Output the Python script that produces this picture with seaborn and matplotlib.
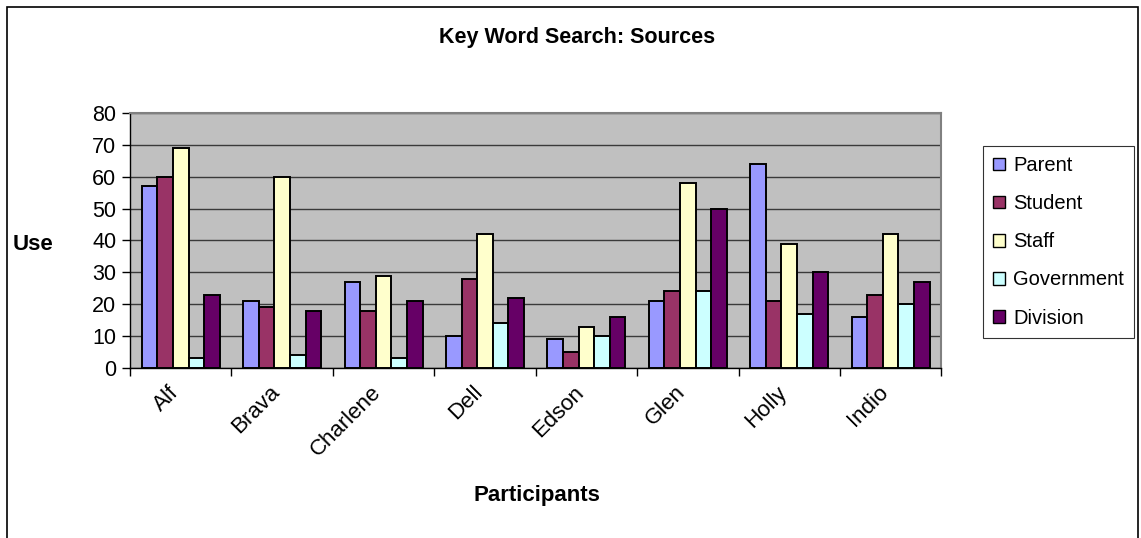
import matplotlib
matplotlib.use("Agg")
import matplotlib.pyplot as plt
import matplotlib.patches as mpatches
import matplotlib.transforms as mtransforms
import seaborn as sns
import pandas as pd
import numpy as np

# Search-term source counts per participant
participants = ["Alf", "Brava", "Charlene", "Dell", "Edson", "Glen", "Holly", "Indio"]
sources = ["Parent", "Student", "Staff", "Government", "Division"]
parent = [57, 21, 27, 10, 9, 21, 64, 16]
student = [60, 19, 18, 28, 5, 24, 21, 23]
staff = [69, 60, 29, 42, 13, 58, 39, 42]
government = [3, 4, 3, 14, 10, 24, 17, 20]
division = [23, 18, 21, 22, 16, 50, 30, 27]
y_ticks = [0, 10, 20, 30, 40, 50, 60, 70, 80]

colors = ["#9999FF", "#993366", "#FFFFCC", "#CCFFFF", "#660066"]

series = [parent, student, staff, government, division]
df = pd.DataFrame({
    "Participant": np.repeat([participants], len(sources), axis=0).ravel(),
    "Source": np.repeat(sources, len(participants)),
    "Use": np.concatenate(series),
})

sns.set_theme(style="white")
plt.rcParams["font.family"] = ["Liberation Sans", "DejaVu Sans"]
plt.rcParams["text.color"] = "black"
plt.rcParams["xtick.color"] = "black"
plt.rcParams["ytick.color"] = "black"
plt.rcParams["axes.labelcolor"] = "black"

fig = plt.figure(figsize=(11.41, 5.38), dpi=100)
ax = fig.add_axes([0.114, 0.316, 0.711, 0.474])
ax.set_facecolor("#C0C0C0")

sns.barplot(data=df, x="Participant", y="Use", hue="Source",
            order=participants, hue_order=sources, palette=colors,
            width=0.77, gap=0, edgecolor="black", linewidth=1.4,
            saturation=1, ax=ax, legend=False, zorder=3)

ax.set_xlim(-0.5, len(participants) - 0.5)
ax.set_ylim(0, 80)
ax.set_yticks(y_ticks)
ax.set_yticklabels([str(t) for t in y_ticks], fontsize=15.5, color="black")
ax.yaxis.grid(True, color="#3a3a3a", linewidth=1.0, zorder=1)
ax.set_axisbelow(True)

# category labels at centres, tick marks at boundaries
ax.set_xticks(range(len(participants)))
ax.set_xticklabels(participants, rotation=45, ha="right", va="top",
                   rotation_mode="anchor", fontsize=16, color="black")
ax.tick_params(axis="x", which="major", length=0, pad=10)
shift = mtransforms.ScaledTranslation(-13 / 100, 0, fig.dpi_scale_trans)
for lbl in ax.get_xticklabels():
    lbl.set_transform(lbl.get_transform() + shift)
ax.set_xticks(np.arange(-0.5, len(participants), 1.0), minor=True)
ax.tick_params(axis="x", which="minor", length=6, width=1, color="black",
               direction="out", bottom=True)
ax.tick_params(axis="y", length=6, width=1, color="black",
               direction="out", left=True, pad=4)
ax.set_xlabel("")
ax.set_ylabel("")

for side in ["left", "bottom"]:
    ax.spines[side].set_color("black")
    ax.spines[side].set_linewidth(1.0)
for side in ["top", "right"]:
    ax.spines[side].set_color("#808080")
    ax.spines[side].set_linewidth(1.5)

fig.text(0.506, 0.931, "Key Word Search: Sources", ha="center", va="center",
         fontsize=15.5, fontweight="bold", color="black")
fig.text(13 / 1141, 0.545, "Use", ha="left", va="center",
         fontsize=16, fontweight="bold", color="black")
fig.text(537 / 1141, 1 - 495 / 538, "Participants", ha="center", va="center",
         fontsize=16, fontweight="bold", color="black")

handles = [mpatches.Patch(facecolor=c, edgecolor="black", linewidth=1.0, label=s)
           for c, s in zip(colors, sources)]
leg = fig.legend(handles=handles, loc="upper left",
                 bbox_to_anchor=(983 / 1141, 1 - 146 / 538),
                 frameon=True, fancybox=False, fontsize=14.5,
                 handlelength=0.6, handleheight=0.6, handletextpad=0.4,
                 labelspacing=0.95, borderpad=0.5, borderaxespad=0,
                 labelcolor="black")
leg.get_frame().set_edgecolor("black")
leg.get_frame().set_linewidth(0.8)

# outer chart border
border = mpatches.Rectangle((7 / 1141, -0.05), (1138 - 7) / 1141, 1.05 - 7 / 538,
                            transform=fig.transFigure, fill=False,
                            edgecolor="black", linewidth=1.2)
fig.patches.append(border)

fig.savefig("out.png", dpi=100)
